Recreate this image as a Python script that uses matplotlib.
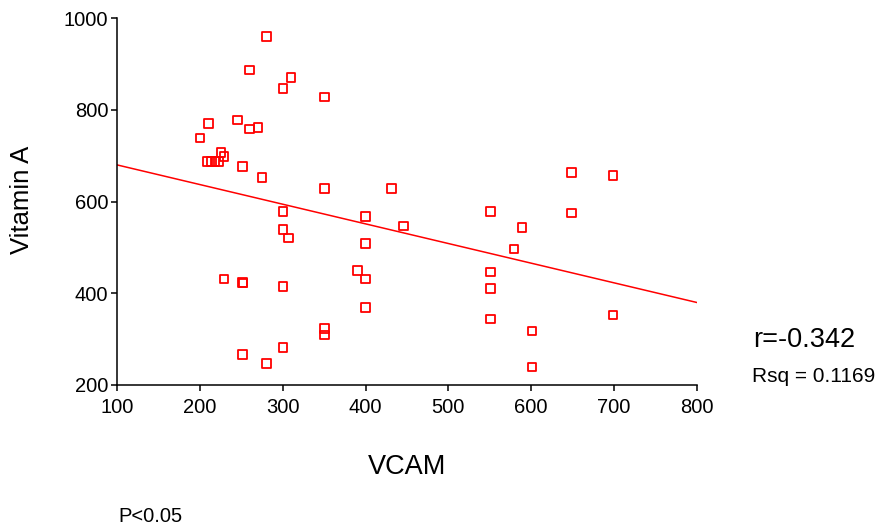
import matplotlib
matplotlib.use("Agg")
import matplotlib.pyplot as plt

plt.rcParams['font.family'] = ['Liberation Sans', 'DejaVu Sans']

vcam = [280, 260, 310, 300, 350, 210, 245, 260, 270, 200,
        225, 229, 209, 214, 218, 222, 251, 275, 350, 431,
        300, 300, 307, 400, 400, 229, 251, 252, 300, 390,
        400, 400, 350, 350, 251, 280, 300, 446, 551, 589,
        579, 551, 551, 551, 601, 601, 649, 699, 649, 699]
vitamin_a = [960, 887, 871, 847, 828, 770, 778, 758, 762, 739,
             707, 699, 688, 688, 688, 688, 677, 653, 629, 629,
             578, 539, 521, 567, 509, 431, 423, 422, 415, 450,
             431, 369, 323, 309, 267, 247, 282, 547, 579, 544,
             497, 446, 411, 344, 318, 239, 664, 657, 575, 353]

fit_x = [100, 800]
fit_y = [680, 380]

x_ticks = [100, 200, 300, 400, 500, 600, 700, 800]
y_ticks = [200, 400, 600, 800, 1000]

fig = plt.figure(figsize=(8.82, 5.27), dpi=100)
ax = fig.add_axes([0.133, 0.2695, 0.657, 0.6958])

ax.scatter(vcam, vitamin_a, marker='s', s=38, facecolors='none',
           edgecolors='#ff0000', linewidths=1.3, zorder=3)
ax.plot(fit_x, fit_y, color='#ff0000', lw=1.1, zorder=2)

ax.set_xlim(100, 800)
ax.set_ylim(200, 1000)
ax.set_xticks(x_ticks)
ax.set_yticks(y_ticks)
ax.tick_params(labelsize=14.5, width=1.1, length=4, color='black')
ax.tick_params(axis='x', pad=5.5)
ax.tick_params(axis='y', pad=2.5)
for s in ['top', 'right']:
    ax.spines[s].set_visible(False)
for s in ['left', 'bottom']:
    ax.spines[s].set_linewidth(1.1)

fig.text(22/882, 1-200/527, 'Vitamin A', rotation=90, ha='center', va='center', fontsize=18.5)
fig.text(407/882, 1-467/527, 'VCAM', ha='center', va='center', fontsize=19.5)
fig.text(118/882, 1-517/527, 'P<0.05', ha='left', va='center', fontsize=14.5)
fig.text(753/882, 1-340/527, 'r=-0.342', ha='left', va='center', fontsize=19.5)
fig.text(752/882, 1-377/527, 'Rsq = 0.1169', ha='left', va='center', fontsize=15)

fig.savefig('out.png', dpi=100)
